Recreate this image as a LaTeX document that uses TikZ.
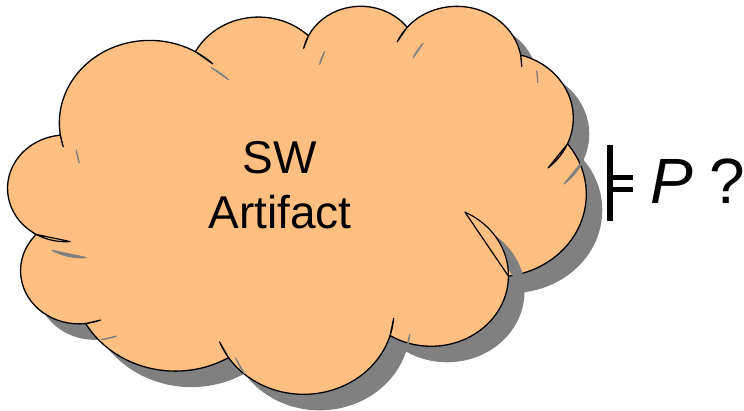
\documentclass[tikz,border=0pt]{standalone}
\usepackage{fontspec}
\setmainfont{Liberation Sans}

\definecolor{cloudorange}{RGB}{255,191,128}
\definecolor{shadowgray}{RGB}{128,128,128}

% one bump of the cloud: ellipse radii, start angle and sweep as seen from the centre
\newcommand\setbump[4]{%
  \pgfmathsetmacro\bumpstart{atan2((#1)*sin(#3),(#2)*cos(#3))}%
  \pgfmathsetmacro\bumpend{atan2((#1)*sin((#3)+(#4)),(#2)*cos((#3)+(#4)))}%
  \pgfmathsetmacro\bumpsign{(#4)/abs(#4)}%
  \pgfmathsetmacro\bumpdelta{\bumpsign*mod(\bumpsign*((\bumpend)-(\bumpstart))+720,360)}%
  \global\let\bumpstart\bumpstart
  \global\let\bumpdelta\bumpdelta}
\newcommand\bump[4]{\pgfextra{\setbump{#1}{#2}{#3}{#4}} arc[x radius=#1, y radius=#2, start angle=\bumpstart, delta angle=\bumpdelta]}

% outline of the cloud
\newcommand\cloudpath{(390,1437) coordinate (c0)
  \bump{675.3}{919.0}{-190.49}{123.78} coordinate (c1)
  \bump{533.3}{726.7}{-144.10}{89.95} coordinate (c2)
  \bump{436.5}{594.5}{-145.81}{99.72} coordinate (c3)
  \bump{485.7}{659.5}{-130.99}{117.24} coordinate (c4)
  \bump{533.3}{727.3}{-78.71}{109.03} coordinate (c5)
  \bump{677.5}{922.0}{-46.27}{130.27} coordinate (c6)
  \bump{578.5}{786.7}{0.63}{114.03} coordinate (c7)
  \bump{675.2}{921.5}{22.45}{115.17} coordinate (c8)
  \bump{772.0}{1054.3}{66.24}{75.71} coordinate (c9)
  \bump{436.0}{591.8}{-274.94}{146.74} coordinate (c10)
  \bump{434.5}{594.5}{-246.83}{152.52} -- cycle}

% short arcs inside the cloud, #1 = offset
\newcommand\cloudseams[1]{%
  ([shift={#1}]c10) \bump{434.5}{594.5}{113.17}{-26.43} -- cycle
  ([shift={#1}]c9) \bump{436.0}{591.8}{85.06}{-11.45} -- cycle
  ([shift={#1}]c8) \bump{675.2}{921.5}{137.62}{14.08} -- cycle
  ([shift={#1}]c7) \bump{675.2}{921.5}{22.45}{-16.00} -- cycle
  ([shift={#1}]c6) \bump{578.5}{786.7}{0.63}{-70.92} -- cycle
  ([shift={#1}]c5) \bump{533.3}{727.3}{30.32}{27.75} -- cycle
  ([shift={#1}]c4) \bump{485.7}{659.5}{-13.74}{14.86} -- cycle
  ([shift={#1}]c3) \bump{485.7}{659.5}{-130.99}{-18.19} -- cycle
  ([shift={#1}]c2) \bump{436.5}{594.5}{-145.81}{-17.69} -- cycle
  ([shift={#1}]c1) \bump{675.3}{919.0}{-66.71}{12.32} -- cycle
  ([shift={#1}]c0) \bump{675.3}{919.0}{169.51}{-11.86} -- cycle}

\begin{document}
\begin{tikzpicture}[
    x=1pt, y=-1pt,
    line join=round,
    outline/.style={line width=1.3pt},
    seam/.style={line width=1.2pt},
    bar/.style={line width=5pt}
    ]
    \useasboundingbox (0,0) rectangle (744,410);

    % Cloud with its shadow
    \begin{scope}[shift={(8,5)}, x=0.1338pt, y=-0.0898pt]
        \begin{scope}[xshift=16pt, yshift=-16pt]
            \fill[shadowgray] \cloudpath;
        \end{scope}
        \filldraw[fill=cloudorange, outline] \cloudpath;
        \filldraw[shadowgray, seam] \cloudseams{(16pt,-16pt)};
        \filldraw[fill=cloudorange, seam] \cloudseams{(0pt,0pt)};
    \end{scope}

    % Text in the cloud
    \node[font=\fontsize{46}{55}\selectfont, align=center, inner sep=0pt] (artifact) at (280,185.5) {SW\\Artifact};

    % Models symbol
    \draw[bar, line width=6pt] (610,145) -- (610,221);
    \draw[bar] (610,177.7) -- (633,177.7);
    \draw[bar] (610,189.5) -- (633,189.5);

    \node[font=\fontsize{64}{77}\selectfont\itshape, anchor=base west, inner sep=0pt] (prop) at (650,203) {P};
    \node[font=\fontsize{64}{77}\selectfont, anchor=base west, inner sep=0pt] (query) at (709,203) {?};
\end{tikzpicture}
\end{document}
